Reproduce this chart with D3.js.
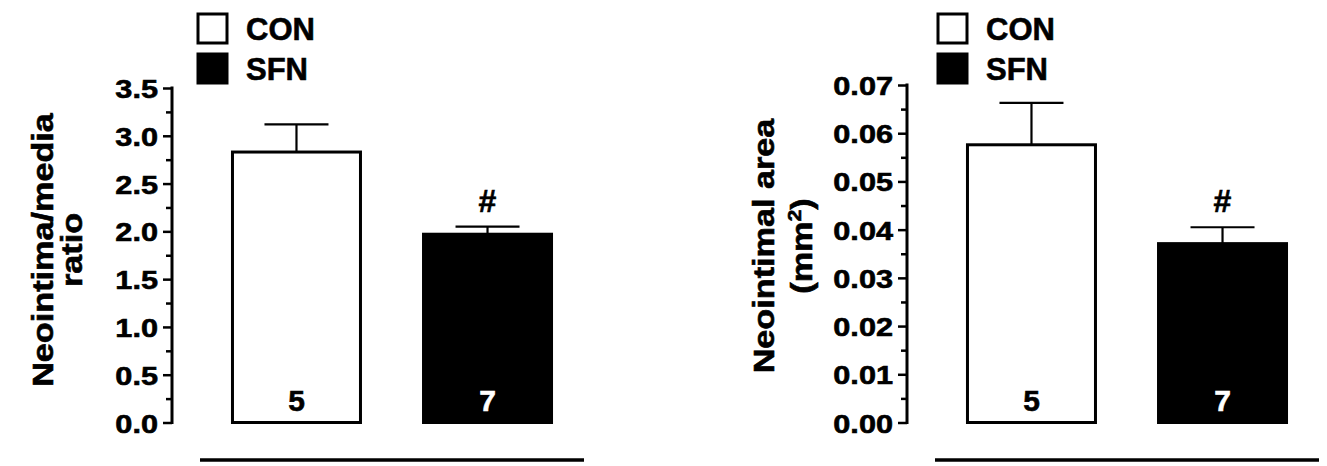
<!DOCTYPE html>
<html><head><meta charset="utf-8">
<script src="https://cdn.jsdelivr.net/npm/d3@7"></script>
<style>
html,body{margin:0;padding:0;background:#fff;}
text{font-family:"Liberation Sans",Arial,sans-serif;font-weight:bold;fill:#000;stroke:#000;stroke-width:0.6px;}
</style></head>
<body><svg id="c" width="1327" height="466"></svg>
<script>
// ---- data ----
const groups = ["CON", "SFN"];
const ratioMeans = [2.83, 1.97];
const ratioErr = [0.29, 0.08];
const ratioN = ["5", "7"];
const ratioTicks = [0, 0.5, 1.0, 1.5, 2.0, 2.5, 3.0, 3.5];
const areaMeans = [0.0576, 0.0371];
const areaErr = [0.0087, 0.0034];
const areaN = ["5", "7"];
const areaTicks = [0, 0.01, 0.02, 0.03, 0.04, 0.05, 0.06, 0.07];
const signif = ["", "#"];
const fills = ["#fff", "#000"];
const nColors = ["#000", "#fff"];

const svg = d3.select("#c");

function panel(cfg) {
  const g = svg.append("g");
  const y = d3.scaleLinear().domain([0, cfg.max]).range([422.5, cfg.top]);
  const x = d3.scaleBand().domain(groups)
    .range([cfg.ax + 28, cfg.ax + 412]).paddingInner(0.33).paddingOuter(0.17);

  // minor ticks
  const minor = [];
  for (let i = 0; i < cfg.ticks.length - 1; i++) minor.push((cfg.ticks[i] + cfg.ticks[i + 1]) / 2);
  const minorAxis = g.append("g").attr("transform", `translate(${cfg.ax},0)`)
    .call(d3.axisLeft(y).tickValues(minor).tickSize(6).tickFormat(""));
  minorAxis.select(".domain").remove();
  minorAxis.selectAll("line").attr("stroke", "#000").attr("stroke-width", 2.5);

  const ax = g.append("g").attr("transform", `translate(${cfg.ax},0)`)
    .call(d3.axisLeft(y).tickValues(cfg.ticks).tickSize(9).tickSizeOuter(0).tickFormat(cfg.fmt));
  ax.select(".domain").attr("stroke", "#000").attr("stroke-width", 3)
    .attr("d", `M0,${y(0) + 1.5}V${y(cfg.max) - 1.5}`);
  ax.selectAll("line").attr("stroke", "#000").attr("stroke-width", 2.5);
  ax.selectAll("text").attr("x", null).attr("dy", null)
    .attr("font-family", null).attr("font-size", null)
    .style("font-size", "26px")
    .attr("text-anchor", "end")
    .attr("transform", "translate(-14,9.5) scale(1.18,1)");

  // bars
  g.selectAll(".bar").data(groups).enter().append("rect")
    .attr("x", d => x(d))
    .attr("y", (d, i) => y(cfg.means[i]))
    .attr("width", x.bandwidth())
    .attr("height", (d, i) => y(0) - y(cfg.means[i]))
    .attr("fill", (d, i) => fills[i])
    .attr("stroke", "#000").attr("stroke-width", 3);

  // error bars (upper)
  groups.forEach((d, i) => {
    const cx = x(d) + x.bandwidth() / 2;
    const top = y(cfg.means[i] + cfg.err[i]);
    g.append("line").attr("x1", cx).attr("x2", cx)
      .attr("y1", y(cfg.means[i])).attr("y2", top)
      .attr("stroke", "#000").attr("stroke-width", 2.2);
    g.append("line").attr("x1", cx - x.bandwidth() / 4).attr("x2", cx + x.bandwidth() / 4)
      .attr("y1", top).attr("y2", top)
      .attr("stroke", "#000").attr("stroke-width", 2.2);
    if (signif[i]) {
      g.append("text").attr("x", cx).attr("y", top - 15)
        .attr("text-anchor", "middle").style("font-size", "32px").text(signif[i]);
    }
    g.append("text").attr("x", cx).attr("y", y(0) - 12)
      .attr("text-anchor", "middle").style("font-size", "30px")
      .style("fill", nColors[i]).style("stroke", nColors[i]).text(cfg.n[i]);
  });

  // bottom line
  g.append("line").attr("x1", x.range()[0]).attr("x2", x.range()[1])
    .attr("y1", 460).attr("y2", 460).attr("stroke", "#000").attr("stroke-width", 3.5);

  // legend
  groups.forEach((d, i) => {
    g.append("rect").attr("x", cfg.lx).attr("y", 14 + i * 40)
      .attr("width", 29).attr("height", 29)
      .attr("fill", fills[i]).attr("stroke", "#000").attr("stroke-width", 3);
    g.append("text").attr("x", cfg.lx + 48).attr("y", 40 + i * 40)
      .style("font-size", "31px").text(d);
  });

  // titles
  cfg.title.forEach((t, i) => {
    const tx = g.append("text")
      .attr("transform", `translate(${cfg.tx[i]},${cfg.ty}) rotate(-90) scale(1.18,1)`)
      .attr("text-anchor", "middle").style("font-size", "29px");
    if (typeof t === "string") tx.text(t);
    else {
      tx.append("tspan").text(t[0]);
      tx.append("tspan").attr("dy", -11).style("font-size", "18px").text(t[1]);
      tx.append("tspan").attr("dy", 11).text(t[2]);
    }
  });
}

panel({ax: 172, top: 88, max: 3.5, ticks: ratioTicks, fmt: d3.format(".1f"),
  means: ratioMeans, err: ratioErr, n: ratioN, lx: 198,
  title: ["Neointima/media", "ratio"], tx: [53, 82], ty: 250});
panel({ax: 907, top: 85, max: 0.07, ticks: areaTicks, fmt: d3.format(".2f"),
  means: areaMeans, err: areaErr, n: areaN, lx: 938,
  title: ["Neointimal area", ["(mm", "2", ")"]], tx: [774, 812], ty: 246});
</script></body></html>
